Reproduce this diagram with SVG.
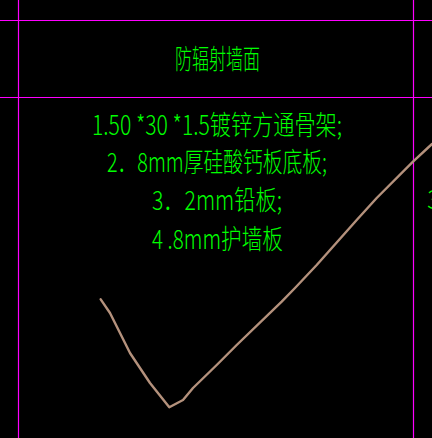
<svg xmlns="http://www.w3.org/2000/svg" width="432" height="438" viewBox="0 0 432 438">
<style>
.grid{stroke:#ff00ff;stroke-width:1.2;fill:none}
.txt{fill:#00ff00;font-family:"Noto Sans CJK SC","Liberation Sans",sans-serif;font-size:27px;font-weight:300}
.curve{stroke:#b4917c;stroke-width:2.4;fill:none;stroke-linejoin:round;stroke-linecap:round}
</style>
<rect x="0" y="0" width="432" height="438" fill="#000000"/>
<g id="grid">
<line class="grid" x1="18.5" y1="0" x2="18.5" y2="438"/>
<line class="grid" x1="413.5" y1="0" x2="413.5" y2="438"/>
<line class="grid" x1="0" y1="20.5" x2="432" y2="20.5"/>
<line class="grid" x1="0" y1="97.5" x2="432" y2="97.5"/>
</g>
<g id="title">
<text class="txt" x="175" y="69" textLength="85" lengthAdjust="spacingAndGlyphs">防辐射墙面</text>
</g>
<g id="notes">
<text class="txt" x="92" y="135" textLength="250" lengthAdjust="spacingAndGlyphs">1.50 *30 *1.5镀锌方通骨架;</text>
<text class="txt" x="107" y="172" textLength="220" lengthAdjust="spacingAndGlyphs">2．8mm厚硅酸钙板底板;</text>
<text class="txt" x="152" y="210" textLength="130" lengthAdjust="spacingAndGlyphs">3．2mm铅板;</text>
<text class="txt" x="152" y="249" textLength="131" lengthAdjust="spacingAndGlyphs">4 .8mm护墙板</text>
<text class="txt" x="427" y="209">3</text>
</g>
<g id="connectors">
<polyline class="curve" points="100.7,299.3 110,313 130,353 150,383 169.3,407.3 183,400 193,388 216.7,365 236.7,345 281.7,301.7 295,288 316.7,265 356.7,220 376.7,198 413,161.7 432,144"/>
</g>
</svg>
